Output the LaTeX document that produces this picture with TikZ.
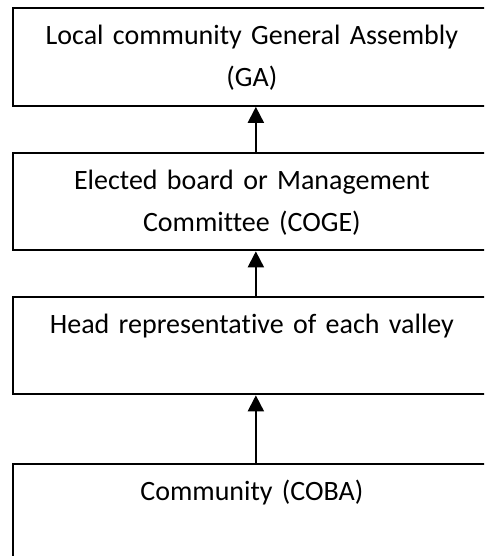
\documentclass[tikz,border=0pt]{standalone}
\usepackage{fontspec}
\setmainfont{Carlito}[Ligatures=NoCommon]
\usetikzlibrary{arrows.meta,positioning}

\begin{document}
\begin{tikzpicture}[x=0.5pt,y=-0.5pt,
  level/.style={draw,line width=1pt,rectangle,anchor=north,text width=231pt,
    inner xsep=4pt,minimum height=48pt,align=center,
    font=\fontsize{14}{21}\selectfont},
  up/.style={-{Triangle[width=8pt,length=8pt]},line width=1pt}]
  \clip (0,0) rectangle (484,556);
  % the four levels, top to bottom
  \node[level] (ga)   at (251.85,7.5) {\strut Local community General Assembly\\\strut(GA)};
  \node[level] (coge) at (251.85,152) {\strut Elected board or Management\\\strut Committee (COGE)};
  \node[level] (head) at (251.85,296) {\strut Head representative of each valley\\\strut};
  \node[level] (coba) at (251.85,463) {\strut Community (COBA)\\\strut};
  % links pointing upwards
  \draw[up] ([xshift=2pt]coge.north) -- ([xshift=2pt]ga.south);
  \draw[up] ([xshift=2pt]head.north) -- ([xshift=2pt]coge.south);
  \draw[up] ([xshift=2pt]coba.north) -- ([xshift=2pt]head.south);
\end{tikzpicture}
\end{document}
